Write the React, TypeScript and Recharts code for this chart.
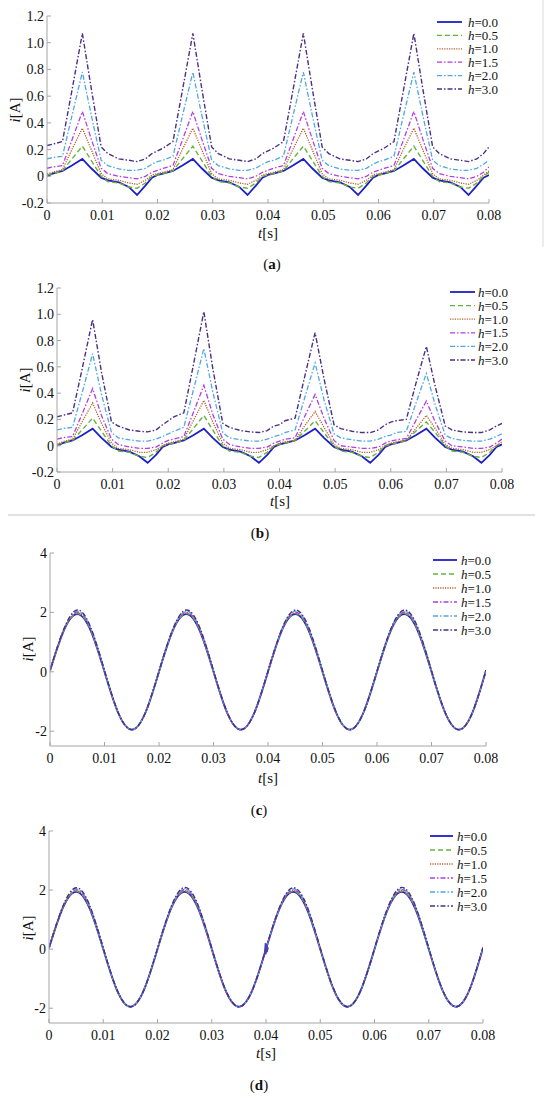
import React from "react";
import { LineChart, Line, XAxis, YAxis, Legend } from "recharts";

const FONT = '"Liberation Serif", "Times New Roman", serif';
const AXIS = "#a6a6a6";

// ---------- panels (a) and (b): sample times [s] ----------
const timeAB = [
  0, 0.001, 0.0028, 0.0045, 0.0064, 0.008, 0.0098, 0.011, 0.013, 0.0148, 0.0163, 0.0178, 0.019,
  0.02, 0.021, 0.0228, 0.0245, 0.0264, 0.028, 0.0298, 0.031, 0.033, 0.0348, 0.0363, 0.0378, 0.039,
  0.04, 0.041, 0.0428, 0.0445, 0.0464, 0.048, 0.0498, 0.051, 0.053, 0.0548, 0.0563, 0.0578, 0.059,
  0.06, 0.061, 0.0628, 0.0645, 0.0664, 0.068, 0.0698, 0.071, 0.073, 0.0748, 0.0763, 0.0778, 0.079,
  0.08,
];

// (a) current i [A]
const aH00 = [
  0.0, 0.02, 0.04, 0.08, 0.13, 0.06, -0.01, -0.03, -0.045, -0.08, -0.14, -0.07, -0.01,
  0.01, 0.02, 0.04, 0.08, 0.13, 0.06, -0.01, -0.03, -0.045, -0.08, -0.14, -0.07, -0.01,
  0.01, 0.02, 0.04, 0.08, 0.13, 0.06, -0.01, -0.03, -0.045, -0.08, -0.14, -0.07, -0.01,
  0.01, 0.02, 0.04, 0.08, 0.13, 0.06, -0.01, -0.03, -0.045, -0.08, -0.14, -0.07, -0.01,
  0.01,
];
const aH05 = [
  0.01, 0.02, 0.04, 0.13, 0.225, 0.12, 0.0, -0.04, -0.05, -0.08, -0.09, -0.05, 0.0,
  0.01, 0.02, 0.04, 0.13, 0.225, 0.12, 0.0, -0.04, -0.05, -0.08, -0.09, -0.05, 0.0,
  0.01, 0.02, 0.04, 0.13, 0.225, 0.12, 0.0, -0.04, -0.05, -0.08, -0.09, -0.05, 0.0,
  0.01, 0.02, 0.04, 0.13, 0.225, 0.12, 0.0, -0.04, -0.05, -0.08, -0.09, -0.05, 0.0,
  0.03,
];
const aH10 = [
  0.02, 0.03, 0.05, 0.2, 0.36, 0.2, 0.02, -0.02, -0.03, -0.05, -0.06, -0.03, 0.01,
  0.02, 0.03, 0.05, 0.2, 0.36, 0.2, 0.02, -0.02, -0.03, -0.05, -0.06, -0.03, 0.01,
  0.02, 0.03, 0.05, 0.2, 0.36, 0.2, 0.02, -0.02, -0.03, -0.05, -0.06, -0.03, 0.01,
  0.02, 0.03, 0.05, 0.2, 0.36, 0.2, 0.02, -0.02, -0.03, -0.05, -0.06, -0.03, 0.01,
  0.04,
];
const aH15 = [
  0.06, 0.07, 0.08, 0.27, 0.485, 0.28, 0.06, 0.02, 0.0, -0.01, -0.02, 0.0, 0.03,
  0.045, 0.06, 0.08, 0.27, 0.485, 0.28, 0.06, 0.02, 0.0, -0.01, -0.02, 0.0, 0.03,
  0.045, 0.06, 0.08, 0.27, 0.485, 0.28, 0.06, 0.02, 0.0, -0.01, -0.02, 0.0, 0.03,
  0.045, 0.06, 0.08, 0.27, 0.485, 0.28, 0.06, 0.02, 0.0, -0.01, -0.02, 0.0, 0.03,
  0.07,
];
const aH20 = [
  0.13, 0.14, 0.15, 0.45, 0.78, 0.46, 0.12, 0.08, 0.055, 0.045, 0.045, 0.06, 0.09,
  0.11, 0.12, 0.15, 0.45, 0.78, 0.46, 0.12, 0.08, 0.055, 0.045, 0.045, 0.06, 0.09,
  0.11, 0.12, 0.15, 0.45, 0.78, 0.46, 0.12, 0.08, 0.055, 0.045, 0.045, 0.06, 0.09,
  0.11, 0.12, 0.15, 0.45, 0.78, 0.46, 0.12, 0.08, 0.055, 0.045, 0.045, 0.06, 0.09,
  0.12,
];
const aH30 = [
  0.23, 0.24, 0.26, 0.64, 1.07, 0.66, 0.22, 0.17, 0.13, 0.12, 0.11, 0.13, 0.17,
  0.19, 0.21, 0.26, 0.64, 1.07, 0.66, 0.22, 0.17, 0.13, 0.12, 0.11, 0.13, 0.17,
  0.19, 0.21, 0.26, 0.64, 1.07, 0.66, 0.22, 0.17, 0.13, 0.12, 0.11, 0.13, 0.17,
  0.19, 0.21, 0.26, 0.64, 1.07, 0.66, 0.22, 0.17, 0.13, 0.12, 0.11, 0.13, 0.17,
  0.22,
];

// (b) current i [A]
const bH00 = [
  0.0, 0.02, 0.04, 0.08, 0.13, 0.06, -0.01, -0.03, -0.045, -0.08, -0.13, -0.07, -0.01,
  0.01, 0.02, 0.04, 0.08, 0.13, 0.06, -0.01, -0.03, -0.045, -0.08, -0.13, -0.07, -0.01,
  0.01, 0.02, 0.04, 0.08, 0.13, 0.06, -0.01, -0.03, -0.045, -0.08, -0.13, -0.07, -0.01,
  0.01, 0.02, 0.04, 0.08, 0.13, 0.06, -0.01, -0.03, -0.045, -0.08, -0.13, -0.07, -0.01,
  0.01,
];
const bH05 = [
  0.01, 0.02, 0.04, 0.12, 0.21, 0.11, 0.0, -0.04, -0.05, -0.08, -0.09, -0.05, 0.0,
  0.01, 0.02, 0.04, 0.13, 0.23, 0.12, 0.0, -0.04, -0.05, -0.08, -0.09, -0.05, 0.0,
  0.01, 0.02, 0.04, 0.11, 0.19, 0.1, 0.0, -0.04, -0.05, -0.08, -0.09, -0.05, 0.0,
  0.01, 0.02, 0.04, 0.11, 0.18, 0.1, 0.0, -0.04, -0.05, -0.08, -0.09, -0.05, 0.0,
  0.02,
];
const bH10 = [
  0.01, 0.03, 0.05, 0.18, 0.325, 0.17, 0.02, -0.02, -0.03, -0.05, -0.05, -0.03, 0.0,
  0.02, 0.03, 0.05, 0.19, 0.345, 0.18, 0.02, -0.02, -0.03, -0.05, -0.05, -0.03, 0.0,
  0.02, 0.03, 0.04, 0.15, 0.26, 0.14, 0.01, -0.02, -0.03, -0.05, -0.05, -0.03, 0.0,
  0.02, 0.03, 0.04, 0.13, 0.23, 0.13, 0.01, -0.02, -0.03, -0.05, -0.05, -0.03, 0.0,
  0.03,
];
const bH15 = [
  0.05, 0.06, 0.07, 0.24, 0.435, 0.23, 0.05, 0.01, -0.01, -0.02, -0.02, -0.01, 0.02,
  0.04, 0.05, 0.07, 0.25, 0.46, 0.24, 0.05, 0.01, -0.01, -0.02, -0.02, -0.01, 0.02,
  0.035, 0.05, 0.06, 0.22, 0.39, 0.21, 0.04, 0.0, -0.01, -0.02, -0.02, -0.01, 0.02,
  0.035, 0.045, 0.055, 0.19, 0.34, 0.18, 0.035, 0.0, -0.01, -0.02, -0.02, -0.01, 0.02,
  0.05,
];
const bH20 = [
  0.12, 0.13, 0.14, 0.4, 0.7, 0.39, 0.1, 0.06, 0.045, 0.035, 0.035, 0.05, 0.07,
  0.09, 0.11, 0.14, 0.42, 0.74, 0.41, 0.1, 0.06, 0.045, 0.035, 0.035, 0.05, 0.07,
  0.08, 0.1, 0.12, 0.36, 0.63, 0.35, 0.09, 0.06, 0.045, 0.035, 0.035, 0.05, 0.07,
  0.08, 0.1, 0.11, 0.32, 0.55, 0.31, 0.08, 0.055, 0.04, 0.035, 0.035, 0.05, 0.07,
  0.09,
];
const bH30 = [
  0.22, 0.23, 0.25, 0.58, 0.96, 0.56, 0.18, 0.15, 0.12, 0.11, 0.105, 0.12, 0.16,
  0.19, 0.22, 0.25, 0.61, 1.02, 0.59, 0.17, 0.14, 0.115, 0.105, 0.1, 0.115, 0.15,
  0.16, 0.19, 0.21, 0.52, 0.86, 0.51, 0.16, 0.13, 0.11, 0.1, 0.1, 0.12, 0.16,
  0.18, 0.19, 0.2, 0.47, 0.755, 0.45, 0.15, 0.12, 0.105, 0.1, 0.1, 0.12, 0.15,
  0.17,
];

// ---------- panels (c) and (d): sample times [s] ----------
const timeCD = [
  0, 0.0025, 0.005, 0.0075, 0.01, 0.0125, 0.015, 0.0175,
  0.02, 0.0225, 0.025, 0.0275, 0.03, 0.0325, 0.035, 0.0375,
  0.04, 0.0425, 0.045, 0.0475, 0.05, 0.0525, 0.055, 0.0575,
  0.06, 0.0625, 0.065, 0.0675, 0.07, 0.0725, 0.075, 0.0775,
  0.08,
];

const cH00 = [
  0.03, 1.37, 1.94, 1.37, 0.0, -1.38, -1.95, -1.38,
  0.0, 1.37, 1.94, 1.37, 0.0, -1.38, -1.95, -1.38,
  0.0, 1.37, 1.94, 1.37, 0.0, -1.38, -1.95, -1.38,
  0.0, 1.37, 1.94, 1.37, 0.0, -1.38, -1.95, -1.38,
  0.04,
];
const cH05 = [
  0.03, 1.38, 1.96, 1.39, 0.0, -1.38, -1.95, -1.38,
  0.0, 1.38, 1.96, 1.39, 0.0, -1.38, -1.95, -1.38,
  0.0, 1.38, 1.96, 1.39, 0.0, -1.38, -1.95, -1.38,
  0.0, 1.38, 1.96, 1.39, 0.0, -1.38, -1.95, -1.38,
  0.04,
];
const cH10 = [
  0.04, 1.39, 1.98, 1.41, 0.01, -1.38, -1.95, -1.38,
  0.01, 1.39, 1.98, 1.41, 0.01, -1.38, -1.95, -1.38,
  0.01, 1.39, 1.98, 1.41, 0.01, -1.38, -1.95, -1.38,
  0.01, 1.39, 1.98, 1.41, 0.01, -1.38, -1.95, -1.38,
  0.05,
];
const cH15 = [
  0.04, 1.4, 2.01, 1.43, 0.02, -1.37, -1.95, -1.38,
  0.01, 1.4, 2.01, 1.43, 0.02, -1.37, -1.95, -1.38,
  0.01, 1.4, 2.01, 1.43, 0.02, -1.37, -1.95, -1.38,
  0.01, 1.4, 2.01, 1.43, 0.02, -1.37, -1.95, -1.38,
  0.05,
];
const cH20 = [
  0.05, 1.41, 2.04, 1.45, 0.03, -1.37, -1.95, -1.38,
  0.01, 1.41, 2.04, 1.45, 0.03, -1.37, -1.95, -1.38,
  0.01, 1.41, 2.04, 1.45, 0.03, -1.37, -1.95, -1.38,
  0.01, 1.41, 2.04, 1.45, 0.03, -1.37, -1.95, -1.38,
  0.05,
];
const cH30 = [
  0.05, 1.42, 2.08, 1.48, 0.04, -1.36, -1.95, -1.38,
  0.02, 1.42, 2.08, 1.48, 0.04, -1.36, -1.95, -1.38,
  0.02, 1.42, 2.08, 1.48, 0.04, -1.36, -1.95, -1.38,
  0.02, 1.42, 2.08, 1.48, 0.04, -1.36, -1.95, -1.38,
  0.06,
];

const dH00 = [
  0.03, 1.37, 1.94, 1.37, 0.0, -1.38, -1.95, -1.38,
  0.0, 1.37, 1.94, 1.37, 0.0, -1.38, -1.95, -1.38,
  0.0, 1.37, 1.94, 1.37, 0.0, -1.38, -1.95, -1.38,
  0.0, 1.37, 1.94, 1.37, 0.0, -1.38, -1.95, -1.38,
  0.04,
];
const dH05 = [
  0.03, 1.38, 1.96, 1.39, 0.0, -1.38, -1.95, -1.38,
  0.0, 1.38, 1.96, 1.39, 0.0, -1.38, -1.95, -1.38,
  0.0, 1.38, 1.96, 1.39, 0.0, -1.38, -1.95, -1.38,
  0.0, 1.38, 1.96, 1.39, 0.0, -1.38, -1.95, -1.38,
  0.04,
];
const dH10 = [
  0.04, 1.39, 1.98, 1.41, 0.01, -1.38, -1.95, -1.38,
  0.01, 1.39, 1.98, 1.41, 0.01, -1.38, -1.95, -1.38,
  0.01, 1.39, 1.98, 1.41, 0.01, -1.38, -1.95, -1.38,
  0.01, 1.39, 1.98, 1.41, 0.01, -1.38, -1.95, -1.38,
  0.05,
];
const dH15 = [
  0.04, 1.4, 2.01, 1.43, 0.02, -1.37, -1.95, -1.38,
  0.01, 1.4, 2.02, 1.43, 0.02, -1.37, -1.95, -1.38,
  0.01, 1.4, 2.01, 1.43, 0.02, -1.37, -1.95, -1.38,
  0.01, 1.4, 2.02, 1.43, 0.02, -1.37, -1.95, -1.38,
  0.05,
];
const dH20 = [
  0.05, 1.41, 2.04, 1.45, 0.03, -1.37, -1.95, -1.38,
  0.01, 1.41, 2.05, 1.45, 0.03, -1.37, -1.95, -1.38,
  0.01, 1.41, 2.04, 1.45, 0.03, -1.37, -1.95, -1.38,
  0.01, 1.41, 2.05, 1.45, 0.03, -1.37, -1.95, -1.38,
  0.05,
];
const dH30 = [
  0.05, 1.42, 2.08, 1.48, 0.04, -1.36, -1.95, -1.38,
  0.02, 1.43, 2.09, 1.48, 0.04, -1.36, -1.95, -1.38,
  0.02, 1.42, 2.08, 1.48, 0.04, -1.36, -1.95, -1.38,
  0.02, 1.43, 2.09, 1.48, 0.04, -1.36, -1.95, -1.38,
  0.06,
];

// small disturbance visible in (d) at t = 0.04 s
const glitchT = [0.0397, 0.0399, 0.04, 0.0401, 0.0402, 0.0404];
const glitchV = [-0.22, 0.21, -0.17, 0.18, -0.1, 0.06];

// ---------- axes ----------
const xTicks = [0, 0.01, 0.02, 0.03, 0.04, 0.05, 0.06, 0.07, 0.08];
const yTicksAB = [-0.2, 0, 0.2, 0.4, 0.6, 0.8, 1.0, 1.2];
const yTicksCD = [-2, 0, 2, 4];

const SERIES = [
  { key: "h00", label: "0.0", color: "#1f1fc8", dash: undefined, width: 1.8 },
  { key: "h05", label: "0.5", color: "#62b53a", dash: "5 3", width: 1.4 },
  { key: "h10", label: "1.0", color: "#b8602a", dash: "1.2 1.2", width: 1.3 },
  { key: "h15", label: "1.5", color: "#b03fe0", dash: "5 2 1.5 2", width: 1.3 },
  { key: "h20", label: "2.0", color: "#4fa8e0", dash: "5 2 1.5 2", width: 1.3 },
  { key: "h30", label: "3.0", color: "#4a2f86", dash: "5 2 1.5 2", width: 1.4 },
];

const buildRows = (time: number[], cols: number[][]) =>
  time.map((t, i) => ({
    t,
    h00: cols[0][i],
    h05: cols[1][i],
    h10: cols[2][i],
    h15: cols[3][i],
    h20: cols[4][i],
    h30: cols[5][i],
  }));

const rowsA = buildRows(timeAB, [aH00, aH05, aH10, aH15, aH20, aH30]);
const rowsB = buildRows(timeAB, [bH00, bH05, bH10, bH15, bH20, bH30]);
const rowsC = buildRows(timeCD, [cH00, cH05, cH10, cH15, cH20, cH30]);
const rowsD = buildRows(timeCD, [dH00, dH05, dH10, dH15, dH20, dH30]);
const glitchRows = glitchT.map((t, i) => ({ t, v: glitchV[i] }));

const fmtX = (v: number) => (Math.abs(v) < 1e-9 ? "0" : v.toFixed(2));
const fmtY1 = (v: number) => (Math.abs(v) < 1e-9 ? "0" : v.toFixed(1));
const fmtY0 = (v: number) => (Math.abs(v) < 1e-9 ? "0" : String(v));

function XTitle({ posX, posY }: any) {
  return (
    <text x={posX} y={posY} textAnchor="middle" dominantBaseline="central" fontFamily={FONT} fontSize={15} fill="#111">
      <tspan fontStyle="italic">t</tspan>[s]
    </text>
  );
}

function YTitle({ posX, posY }: any) {
  return (
    <text
      x={posX}
      y={posY}
      transform={`rotate(-90 ${posX} ${posY})`}
      textAnchor="middle"
      dominantBaseline="central"
      fontFamily={FONT}
      fontSize={15}
      fill="#111"
    >
      <tspan fontStyle="italic">i</tspan>[A]
    </text>
  );
}

const legendContent = (gap: number, lineLen: number, textX: number) => () => (
  <svg width={95} height={gap * 6 + 6} style={{ display: "block", overflow: "visible" }}>
    {SERIES.map((s, i) => (
      <g key={s.key}>
        <line
          x1={0}
          x2={lineLen}
          y1={7 + i * gap}
          y2={7 + i * gap}
          stroke={s.color}
          strokeWidth={s.width}
          strokeDasharray={s.dash}
        />
        <text x={textX} y={7 + i * gap} dominantBaseline="central" fontFamily={FONT} fontSize={13} fill="#111">
          <tspan fontStyle="italic">h</tspan>={s.label}
        </text>
      </g>
    ))}
  </svg>
);

type PanelProps = {
  top: number;
  height: number;
  margin: { top: number; right: number; bottom: number; left: number };
  yWidth: number;
  rows: any[];
  yDomain: [number, number];
  yTicks: number[];
  yFmt: (v: number) => string;
  curve: "linear" | "natural";
  legend: { left: number; top: number; gap: number; lineLen: number; textX: number };
  xTitle: [number, number];
  yTitle: [number, number];
  glitch?: boolean;
};

function Panel(p: PanelProps) {
  return (
    <div style={{ position: "absolute", left: 0, top: p.top }}>
      <LineChart width={550} height={p.height} data={p.rows} margin={p.margin}>
        <XAxis
          dataKey="t"
          type="number"
          domain={[0, 0.08]}
          ticks={xTicks}
          interval={0}
          tickFormatter={fmtX}
          allowDataOverflow
          height={30}
          stroke={AXIS}
          tickSize={-4}
          tickMargin={11}
          tick={{ fill: "#111", fontSize: 14, fontFamily: FONT }}
          label={<XTitle posX={p.xTitle[0]} posY={p.xTitle[1]} />}
        />
        <YAxis
          type="number"
          domain={p.yDomain}
          ticks={p.yTicks}
          interval={0}
          tickFormatter={p.yFmt}
          allowDataOverflow
          width={p.yWidth}
          stroke={AXIS}
          tickSize={-4}
          tickMargin={7}
          tick={{ fill: "#111", fontSize: 14, fontFamily: FONT }}
          label={<YTitle posX={p.yTitle[0]} posY={p.yTitle[1]} />}
        />
        <Legend
          layout="vertical"
          align="center"
          verticalAlign="middle"
          content={legendContent(p.legend.gap, p.legend.lineLen, p.legend.textX)}
          wrapperStyle={{ left: p.legend.left, top: p.legend.top, width: 95, height: p.legend.gap * 6 + 6 }}
        />
        {SERIES.map((s) => (
          <Line
            key={s.key}
            dataKey={s.key}
            type={p.curve}
            stroke={s.color}
            strokeWidth={s.width}
            strokeDasharray={s.dash}
            dot={false}
            activeDot={false}
            isAnimationActive={false}
          />
        ))}
        {p.glitch && (
          <Line
            data={glitchRows}
            dataKey="v"
            type="linear"
            stroke="#4a3fb0"
            strokeWidth={1.4}
            dot={false}
            activeDot={false}
            legendType="none"
            isAnimationActive={false}
          />
        )}
      </LineChart>
    </div>
  );
}

function Caption({ x, y, letter }: { x: number; y: number; letter: string }) {
  return (
    <div
      style={{
        position: "absolute",
        left: x - 20,
        top: y - 9,
        width: 40,
        textAlign: "center",
        fontFamily: FONT,
        fontSize: 15,
        lineHeight: "18px",
        color: "#111",
      }}
    >
      (<b>{letter}</b>)
    </div>
  );
}

export default function App() {
  return (
    <div style={{ position: "absolute", left: 0, top: 0, width: 550, height: 1100, background: "#fff", overflow: "hidden" }}>
      <div style={{ position: "absolute", left: 542, top: 0, width: 2, height: 247, background: "#ececec" }} />
      <div style={{ position: "absolute", left: 8, top: 514, width: 527, height: 2, background: "#e2e2e2" }} />

      <Panel
        top={0}
        height={250}
        margin={{ top: 16, right: 61, bottom: 17, left: 0 }}
        yWidth={47}
        rows={rowsA}
        yDomain={[-0.2, 1.2]}
        yTicks={yTicksAB}
        yFmt={fmtY1}
        curve="linear"
        legend={{ left: 437, top: 15, gap: 13.4, lineLen: 25, textX: 31 }}
        xTitle={[268, 233]}
        yTitle={[15, 110]}
      />
      <Caption x={272} y={264} letter="a" />

      <Panel
        top={270}
        height={250}
        margin={{ top: 18, right: 48, bottom: 18, left: 0 }}
        yWidth={57}
        rows={rowsB}
        yDomain={[-0.2, 1.2]}
        yTicks={yTicksAB}
        yFmt={fmtY1}
        curve="linear"
        legend={{ left: 450, top: 15, gap: 13.6, lineLen: 25, textX: 28 }}
        xTitle={[280, 231]}
        yTitle={[25, 110]}
      />
      <Caption x={260} y={533} letter="b" />

      <Panel
        top={540}
        height={255}
        margin={{ top: 13, right: 64, bottom: 19, left: 0 }}
        yWidth={50}
        rows={rowsC}
        yDomain={[-2.5, 4]}
        yTicks={yTicksCD}
        yFmt={fmtY0}
        curve="natural"
        legend={{ left: 433, top: 13, gap: 14, lineLen: 24, textX: 28 }}
        xTitle={[268, 238]}
        yTitle={[28, 109]}
      />
      <Caption x={259} y={810} letter="c" />

      <Panel
        top={820}
        height={255}
        margin={{ top: 11, right: 67, bottom: 22, left: 0 }}
        yWidth={49}
        rows={rowsD}
        yDomain={[-2.5, 4]}
        yTicks={yTicksCD}
        yFmt={fmtY0}
        curve="natural"
        legend={{ left: 430, top: 9, gap: 14, lineLen: 23, textX: 27 }}
        xTitle={[266, 233]}
        yTitle={[28, 108]}
        glitch
      />
      <Caption x={259} y={1085} letter="d" />
    </div>
  );
}
